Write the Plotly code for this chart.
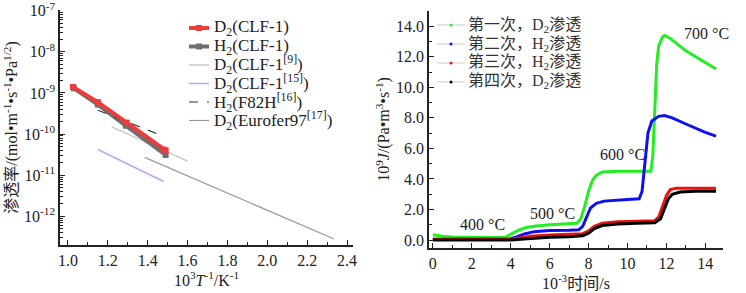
import plotly.graph_objects as go

# ---------------- Left panel data: permeability vs 1000/T ----------------
d2_clf1_x = [1.025, 1.15, 1.295, 1.48, 1.49]
d2_clf1_y = [1.4e-9, 6.0e-10, 1.9e-10, 4.2e-11, 4.0e-11]
h2_clf1_x = [1.03, 1.15, 1.29, 1.49]
h2_clf1_y = [1.3e-9, 5.2e-10, 1.6e-10, 3.1e-11]
d2_ref9_x = [1.22, 1.60]
d2_ref9_y = [1.5e-10, 2.2e-11]
d2_ref15_x = [1.15, 1.48]
d2_ref15_y = [4.2e-11, 7.0e-12]
h2_f82h_x = [1.15, 1.475]
h2_f82h_y = [3.8e-10, 9.0e-11]
d2_euro_x = [1.385, 2.335]
d2_euro_y = [2.7e-11, 2.8e-13]

left_names = ["D<sub>2</sub>(CLF-1)", "H<sub>2</sub>(CLF-1)", "D<sub>2</sub>(CLF-1<sup>[9]</sup>)",
              "D<sub>2</sub>(CLF-1<sup>[15]</sup>)", "H<sub>2</sub>(F82H<sup>[16]</sup>)",
              "D<sub>2</sub>(Eurofer97<sup>[17]</sup>)"]
left_colors = ["#ee3b3b", "#6e6e6e", "#c8c8c8", "#c3a3ee", "#333333", "#9a9a9a"]

left_ytick_vals = [1e-12, 1e-11, 1e-10, 1e-9, 1e-8, 1e-7]
left_ytick_text = ["10<sup>-12</sup>", "10<sup>-11</sup>", "10<sup>-10</sup>",
                   "10<sup>-9</sup>", "10<sup>-8</sup>", "10<sup>-7</sup>"]

# ---------------- Right panel data: flux vs time ----------------
g_t = [0, 0.5, 1, 2, 3, 3.7, 4.0, 4.4, 4.8, 5.3, 6, 7, 7.4, 7.6, 7.8, 8.0, 8.2, 8.4, 8.7,
       9.5, 10.5, 11.2, 11.3, 11.4, 11.5, 11.6, 11.8, 11.9, 12.2, 12.6, 13.0, 13.5, 14.0, 14.55]
g_v = [0.35, 0.25, 0.2, 0.17, 0.16, 0.17, 0.4, 0.65, 0.82, 0.92, 1.0, 1.07, 1.1, 1.4, 2.2, 3.2,
       3.9, 4.25, 4.45, 4.5, 4.5, 4.5, 5.5, 8.5, 11.5, 12.7, 13.3, 13.4, 13.2, 12.8, 12.4, 12.0,
       11.6, 11.2]
b_t = [0, 2, 3.9, 4.3, 4.7, 5.2, 6, 7, 7.5, 7.7, 7.9, 8.1, 8.4, 8.8, 10, 10.6, 10.75, 10.85,
       10.95, 11.05, 11.25, 11.6, 11.9, 12.3, 13, 13.5, 14, 14.55]
b_v = [0.05, 0.05, 0.06, 0.2, 0.4, 0.55, 0.62, 0.65, 0.68, 0.9, 1.5, 2.1, 2.4, 2.55, 2.65, 2.7,
       3.2, 4.5, 6.0, 7.0, 7.8, 8.1, 8.15, 8.0, 7.6, 7.3, 7.05, 6.8]
r_t = [0, 4, 4.5, 5, 6, 7, 7.7, 8.0, 8.3, 8.7, 9.5, 10.5, 11.4, 11.6, 11.8, 12.0, 12.2, 12.5,
       13.5, 14.55]
r_v = [0.05, 0.05, 0.15, 0.25, 0.33, 0.38, 0.42, 0.6, 0.9, 1.1, 1.2, 1.23, 1.27, 1.5, 2.2, 2.9,
       3.3, 3.4, 3.4, 3.4]
k_t = [0, 4, 4.5, 5, 6, 7, 7.7, 8.0, 8.3, 8.7, 9.5, 10.5, 11.4, 11.7, 11.9, 12.1, 12.3, 12.7,
       13.5, 14.55]
k_v = [0.0, 0.0, 0.05, 0.1, 0.18, 0.22, 0.28, 0.45, 0.75, 0.95, 1.05, 1.1, 1.13, 1.4, 2.1, 2.7,
       3.0, 3.15, 3.2, 3.2]

right_names = ["第一次，D<sub>2</sub>渗透", "第二次，H<sub>2</sub>渗透",
               "第三次，H<sub>2</sub>渗透", "第四次，D<sub>2</sub>渗透"]
right_colors = ["#22ee22", "#1010ee", "#ee1010", "#000000"]

temp_labels = ["400 °C", "500 °C", "600 °C", "700 °C"]
temp_x = [2.55, 6.15, 9.75, 14.07]
temp_y = [1.0, 1.75, 5.6, 13.5]

FONT = "Liberation Serif, Times New Roman, Noto Sans CJK SC, serif"
W, H = 746, 293

fig = go.Figure()

# Left traces (drawn so that the red series ends up on top)
left_series = [(d2_clf1_x, d2_clf1_y), (h2_clf1_x, h2_clf1_y), (d2_ref9_x, d2_ref9_y),
               (d2_ref15_x, d2_ref15_y), (h2_f82h_x, h2_f82h_y), (d2_euro_x, d2_euro_y)]
left_widths = [4, 4, 1.5, 1.5, 1.2, 1.2]
left_dash = ["solid", "solid", "solid", "solid", "dash", "solid"]
for i in [2, 3, 5, 1, 4, 0]:
    xs, ys = left_series[i]
    mode = "lines+markers" if i < 2 else "lines"
    fig.add_trace(go.Scatter(x=xs, y=ys, mode=mode, name=left_names[i],
                             line=dict(color=left_colors[i], width=left_widths[i], dash=left_dash[i]),
                             marker=dict(symbol="square", size=6),
                             xaxis="x", yaxis="y", showlegend=False))

# Right traces
right_series = [(g_t, g_v), (b_t, b_v), (r_t, r_v), (k_t, k_v)]
for i, (xs, ys) in enumerate(right_series):
    fig.add_trace(go.Scatter(x=xs, y=ys, mode="lines", name=right_names[i],
                             line=dict(color=right_colors[i], width=3),
                             xaxis="x2", yaxis="y2", showlegend=False))

for lab, tx, ty in zip(temp_labels, temp_x, temp_y):
    fig.add_annotation(x=tx, y=ty, xref="x2", yref="y2", text=lab, showarrow=False,
                       font=dict(family=FONT, size=16, color="#222"), yanchor="middle")

# ---- manual legends (paper coordinates) ----
def px(xp):
    return xp / W

def py(yp):
    return 1 - yp / H

left_rows = [28, 46.5, 65, 83.5, 102, 120.5]
for i, yr in enumerate(left_rows):
    fig.add_shape(type="line", xref="paper", yref="paper", x0=px(189), x1=px(209), y0=py(yr), y1=py(yr),
                  line=dict(color=left_colors[i], width=left_widths[i], dash=left_dash[i]))
    if i < 2:
        fig.add_shape(type="rect", xref="paper", yref="paper", x0=px(196), x1=px(202),
                      y0=py(yr + 3), y1=py(yr - 3), line=dict(width=0), fillcolor=left_colors[i])
    fig.add_annotation(x=px(212), y=py(yr), xref="paper", yref="paper", text=left_names[i],
                       showarrow=False, xanchor="left", yanchor="middle",
                       font=dict(family=FONT, size=17, color="#222"))

right_rows = [25, 44, 63, 82]
for i, yr in enumerate(right_rows):
    fig.add_shape(type="line", xref="paper", yref="paper", x0=px(437), x1=px(465), y0=py(yr), y1=py(yr),
                  line=dict(color="#cccccc", width=1))
    fig.add_shape(type="circle", xref="paper", yref="paper", x0=px(449.5), x1=px(452.5),
                  y0=py(yr + 1.5), y1=py(yr - 1.5), line=dict(width=0), fillcolor=right_colors[i])
    fig.add_annotation(x=px(466), y=py(yr), xref="paper", yref="paper", text=right_names[i],
                       showarrow=False, xanchor="left", yanchor="middle",
                       font=dict(family=FONT, size=16, color="#333"))

axis_common = dict(showline=True, linecolor="#222", linewidth=1.5, ticks="inside", ticklen=5,
                   tickcolor="#222", showgrid=False, zeroline=False, automargin=False,
                   tickfont=dict(family=FONT, size=16, color="#222"))

fig.update_layout(
    width=W, height=H, margin=dict(l=0, r=0, t=0, b=0, autoexpand=False),
    paper_bgcolor="white", plot_bgcolor="white",
    font=dict(family=FONT, size=16, color="#222"),
    xaxis=dict(domain=[0.0804, 0.4732], range=[0.96, 2.43], dtick=0.2, tickformat=".1f",
               minor=dict(ticks="inside", ticklen=3, dtick=0.1, tickcolor="#222"),
               title=dict(text="10<sup>3</sup><i>T</i><sup>-1</sup>/K<sup>-1</sup>",
                          font=dict(family=FONT, size=16), standoff=4),
               anchor="y", **axis_common),
    yaxis=dict(domain=[0.1638, 0.966], type="log", range=[-12.7, -6.98],
               tickvals=left_ytick_vals, ticktext=left_ytick_text, ticklabeloverflow="allow",
               minor=dict(ticks="inside", ticklen=3, tickcolor="#222", dtick="D1"),
               title=dict(text="渗透率/(mol•m<sup>-1</sup>•s<sup>-1</sup>•Pa<sup>1/2</sup>)",
                          font=dict(family=FONT, size=16), standoff=2),
               anchor="x", **axis_common),
    xaxis2=dict(domain=[0.575, 0.969], range=[-0.2, 14.9], dtick=2,
                minor=dict(ticks="inside", ticklen=3, dtick=1, tickcolor="#222"),
                title=dict(text="10<sup>-3</sup>时间/s", font=dict(family=FONT, size=16), standoff=4),
                anchor="y2", **axis_common),
    yaxis2=dict(domain=[0.1536, 0.9625], range=[-0.52, 15.0], dtick=2, tickformat=".1f",
                minor=dict(ticks="inside", ticklen=3, dtick=1, tickcolor="#222"),
                title=dict(text="10<sup>9</sup><i>J</i>/(Pa•m<sup>3</sup>•s<sup>-1</sup>)",
                           font=dict(family=FONT, size=16), standoff=2),
                anchor="x2", **axis_common),
    showlegend=False,
)

fig.write_html("out.html", config={"displayModeBar": False},
               post_script="document.body.style.margin='0';document.body.style.overflow='hidden';")
